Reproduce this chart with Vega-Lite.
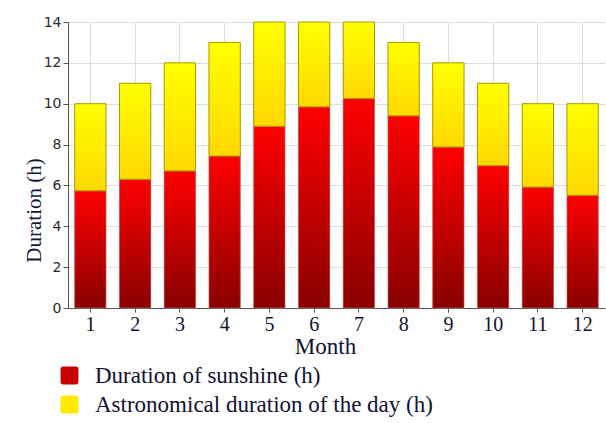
{
  "$schema": "https://vega.github.io/schema/vega-lite/v6.json",
  "width": 537,
  "height": 286,
  "autosize": {"type": "none"},
  "padding": {"left": 68, "top": 22, "right": 1, "bottom": 115},
  "background": "white",
  "config": {
    "view": {"stroke": null},
    "axis": {"gridColor": "#dddddd", "gridWidth": 1, "domainColor": "#555555", "tickColor": "#555555"}
  },
  "data": {
    "values": [
      {"month": "1", "sunshine": 5.74, "daylength": 10},
      {"month": "2", "sunshine": 6.3, "daylength": 11},
      {"month": "3", "sunshine": 6.71, "daylength": 12},
      {"month": "4", "sunshine": 7.44, "daylength": 13},
      {"month": "5", "sunshine": 8.9, "daylength": 14},
      {"month": "6", "sunshine": 9.85, "daylength": 14},
      {"month": "7", "sunshine": 10.26, "daylength": 14},
      {"month": "8", "sunshine": 9.41, "daylength": 13},
      {"month": "9", "sunshine": 7.88, "daylength": 12},
      {"month": "10", "sunshine": 6.97, "daylength": 11},
      {"month": "11", "sunshine": 5.92, "daylength": 10},
      {"month": "12", "sunshine": 5.52, "daylength": 10}
    ]
  },
  "encoding": {
    "x": {
      "field": "month",
      "type": "ordinal",
      "sort": null,
      "scale": {"paddingInner": 0.3, "paddingOuter": 0.15},
      "axis": {
        "title": "Month",
        "labelAngle": 0,
        "labelFont": "Liberation Serif",
        "labelFontSize": 20,
        "labelColor": "#111133",
        "labelPadding": 2,
        "tickSize": 4,
        "bandPosition": 0.5,
        "grid": true,
        "titleFont": "Liberation Serif",
        "titleFontSize": 23,
        "titleFontWeight": "normal",
        "titleColor": "#111133",
        "titleX": 257,
        "titleAlign": "center",
        "titlePadding": 1
      }
    }
  },
  "layer": [
    {
      "mark": {"type": "bar"},
      "encoding": {
        "y": {
          "field": "sunshine",
          "type": "quantitative",
          "scale": {"domain": [0, 14], "nice": false},
          "axis": {
            "title": "Duration (h)",
            "values": [0, 1, 2, 3, 4, 5, 6, 7, 8, 9, 10, 11, 12, 13, 14],
            "labelExpr": "datum.value % 2 === 0 ? datum.label : ''",
            "gridOpacity": {"condition": {"test": "datum.value % 2 === 0", "value": 1}, "value": 0},
            "tickSize": {"condition": {"test": "datum.value % 2 === 0", "value": 5}, "value": 2},
            "labelFont": "DejaVu Sans",
            "labelFontSize": 14,
            "labelColor": "#2a2a2a",
            "labelPadding": 2,
            "titleFont": "Liberation Serif",
            "titleFontSize": 21,
            "titleFontWeight": "normal",
            "titleColor": "#15153a",
            "titleAngle": -90,
            "titleX": -34,
            "titleY": 188,
            "titleAlign": "center",
            "titleBaseline": "middle"
          }
        },
        "color": {
          "datum": "Duration of sunshine (h)",
          "type": "nominal",
          "scale": {
            "domain": ["Duration of sunshine (h)", "Astronomical duration of the day (h)"],
            "range": ["#c80000", "#ffea00"]
          },
          "legend": {
            "title": null,
            "orient": "none",
            "legendX": -10,
            "legendY": 342,
            "direction": "vertical",
            "padding": 0,
            "rowPadding": 5,
            "symbolType": "M-0.7,-1L0.7,-1Q1,-1,1,-0.7L1,0.7Q1,1,0.7,1L-0.7,1Q-1,1,-1,0.7L-1,-0.7Q-1,-1,-0.7,-1Z",
            "symbolSize": 320,
            "symbolStrokeWidth": 0.6,
            "labelFont": "Liberation Serif",
            "labelFontSize": 23,
            "labelColor": "#111133",
            "labelOffset": 14,
            "labelLimit": 600
          }
        }
      }
    },
    {
      "mark": {"type": "bar"},
      "encoding": {
        "y": {"field": "sunshine", "type": "quantitative"},
        "y2": {"field": "daylength"},
        "color": {"datum": "Astronomical duration of the day (h)", "type": "nominal"}
      }
    },
    {
      "mark": {"type": "bar", "stroke": "#d07070", "strokeOpacity": 0.6, "strokeWidth": 1},
      "encoding": {
        "y": {"field": "sunshine", "type": "quantitative"},
        "color": {"value": {"gradient": "linear", "x1": 0, "y1": 0, "x2": 0, "y2": 1, "stops": [{"offset": 0, "color": "#ff0000"}, {"offset": 1, "color": "#880000"}]}}
      }
    },
    {
      "mark": {"type": "bar", "stroke": "#a89a00", "strokeWidth": 1},
      "encoding": {
        "y": {"field": "sunshine", "type": "quantitative"},
        "y2": {"field": "daylength"},
        "color": {"value": {"gradient": "linear", "x1": 0, "y1": 0, "x2": 0, "y2": 1, "stops": [{"offset": 0, "color": "#ffff00"}, {"offset": 1, "color": "#ffd800"}]}}
      }
    }
  ]
}
